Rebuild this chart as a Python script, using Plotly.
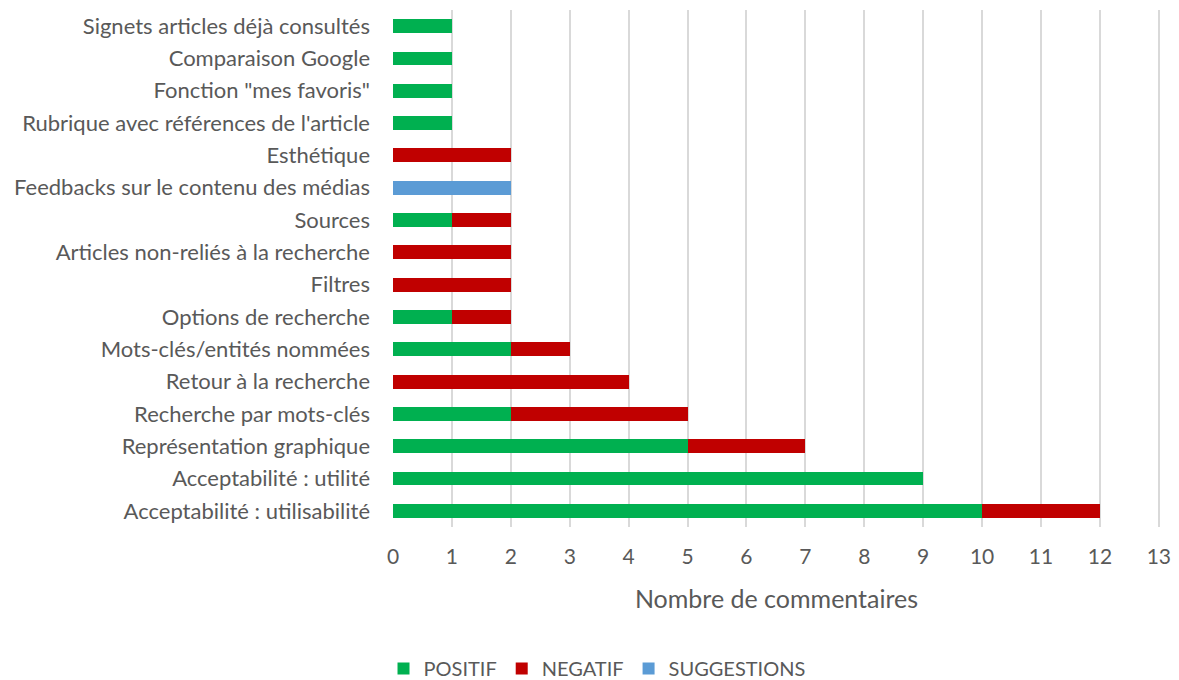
import plotly.graph_objects as go

categories = [
    "Acceptabilité : utilisabilité",
    "Acceptabilité : utilité",
    "Représentation graphique",
    "Recherche par mots-clés",
    "Retour à la recherche",
    "Mots-clés/entités nommées",
    "Options de recherche",
    "Filtres",
    "Articles non-reliés à la recherche",
    "Sources",
    "Feedbacks sur le contenu des médias",
    "Esthétique",
    "Rubrique avec références de l'article",
    "Fonction \"mes favoris\"",
    "Comparaison Google",
    "Signets articles déjà consultés",
]
positif = [10, 9, 5, 2, 0, 2, 1, 0, 0, 1, 0, 0, 1, 1, 1, 1]
negatif = [2, 0, 2, 3, 4, 1, 1, 2, 2, 1, 0, 2, 0, 0, 0, 0]
suggestions = [0, 0, 0, 0, 0, 0, 0, 0, 0, 0, 2, 0, 0, 0, 0, 0]
x_ticks = list(range(0, 14))

FONT = "Lato"
GREY = "#595959"

fig = go.Figure()
for name, vals, col in [("POSITIF", positif, "#00B050"),
                        ("NEGATIF", negatif, "#C00000"),
                        ("SUGGESTIONS", suggestions, "#5B9BD5")]:
    fig.add_trace(go.Bar(y=categories, x=vals, name=name, orientation="h",
                         marker=dict(color=col, line=dict(width=0)), width=0.43))

# page body has an 8px default margin, so the figure is slightly smaller and offset
fig.update_layout(
    barmode="stack",
    width=1171, height=672,
    margin=dict(l=385, r=19, t=2, b=153, autoexpand=False),
    paper_bgcolor="white", plot_bgcolor="white",
    font=dict(family=FONT, color=GREY, size=20),
    legend=dict(orientation="h", xref="container", yref="paper",
                x=0.503, xanchor="center", y=-0.236, yanchor="top",
                font=dict(size=20, color=GREY), traceorder="normal",
                itemwidth=30),
    xaxis=dict(range=[0, 13.02], tickvals=x_ticks, showgrid=True,
               gridcolor="#D9D9D9", gridwidth=1.5, zeroline=False,
               showline=False, tickfont=dict(size=21, color=GREY),
               ticks="", ticklabelstandoff=15, automargin=False,
               title=dict(text="Nombre de commentaires", font=dict(size=25, color=GREY),
                          standoff=23)),
    yaxis=dict(categoryorder="array", categoryarray=categories,
               showgrid=False, zeroline=False, showline=False,
               tickfont=dict(size=22, color=GREY), ticks="",
               ticklabelstandoff=22, automargin=False),
)
fig.write_html("out.html")
